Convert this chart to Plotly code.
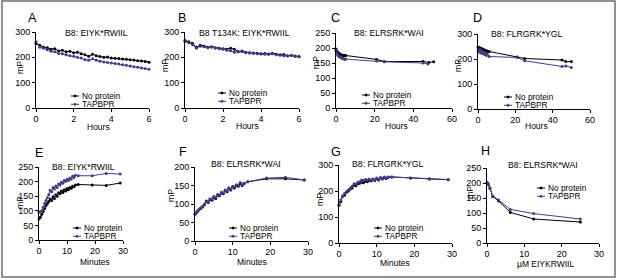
import plotly.graph_objects as go

W, H = 617, 280
BLACK = "#000000"
PURPLE = "#463a8c"
FONT = "Liberation Sans, Arial, sans-serif"

# ---------------- data ----------------
A_hours = [0.0, 0.2, 0.4, 0.6, 0.8, 1.0, 1.2, 1.4, 1.6, 1.8, 2.0, 2.2, 2.4, 2.6, 2.8, 3.0,
           3.2, 3.4, 3.6, 3.8, 4.0, 4.2, 4.4, 4.6, 4.8, 5.0, 5.2, 5.4, 5.6, 5.8, 6.0]
A_none = [255, 248, 240, 238, 232, 234, 225, 228, 222, 224, 218, 220, 214, 210, 204, 212,
          206, 203, 200, 201, 197, 196, 195, 193, 192, 190, 189, 187, 186, 184, 181]
A_tap = [262, 240, 236, 230, 224, 222, 215, 214, 210, 206, 204, 200, 197, 190, 188, 194,
         188, 185, 182, 180, 178, 176, 174, 171, 169, 166, 163, 161, 158, 156, 153]

B_hours = A_hours
B_none = [266, 262, 255, 240, 248, 245, 240, 242, 238, 236, 234, 232, 236, 232, 222, 225,
          220, 218, 217, 216, 214, 215, 213, 216, 212, 210, 211, 206, 208, 205, 202]
B_tap = [262, 258, 250, 236, 244, 242, 238, 240, 236, 234, 232, 228, 226, 220, 224, 222,
         218, 217, 216, 214, 213, 212, 212, 214, 210, 208, 206, 205, 207, 203, 204]

C_hours_none = [0, 0.5, 1, 1.5, 2, 2.5, 3, 3.5, 4, 4.5, 5, 21, 25, 45, 48, 50.5]
C_none = [197, 190, 185, 182, 180, 178, 176, 176, 175, 174, 175, 162, 155, 155, 152, 154]
C_hours_tap = [0, 0.5, 1, 1.5, 2, 2.5, 3, 3.5, 4, 4.5, 5, 21, 25, 45, 47.5]
C_tap = [192, 182, 176, 172, 170, 168, 166, 165, 164, 162, 163, 157, 154, 150, 147]

D_hours = [0, 0.5, 1, 1.5, 2, 2.5, 3, 3.5, 4, 4.5, 5, 6, 21, 25, 45, 47, 50]
D_none = [248, 240, 245, 236, 242, 232, 238, 230, 235, 228, 232, 230, 208, 202, 196, 190, 190]
D_tap = [232, 228, 238, 224, 232, 222, 228, 218, 224, 214, 220, 210, 206, 193, 170, 172, 166]

EFG_min = [0, 0.5, 1, 1.5, 2, 2.5, 3, 3.5, 4, 4.5, 5, 5.5, 6, 6.5, 7, 7.5, 8, 8.5, 9, 9.5,
           10, 10.5, 11, 11.5, 12, 12.5, 13, 14, 19, 24, 29]
E_none = [72, 78, 88, 98, 108, 118, 125, 132, 140, 135, 148, 142, 155, 150, 162, 158, 168, 163,
          172, 168, 176, 172, 180, 177, 184, 182, 188, 190, 188, 187, 195]
E_tap = [95, 98, 100, 112, 125, 135, 145, 155, 170, 165, 180, 175, 185, 180, 192, 188, 198, 194,
         204, 200, 208, 204, 212, 208, 218, 214, 222, 220, 220, 228, 226]
F_none = [72, 78, 84, 88, 92, 98, 108, 104, 112, 110, 118, 115, 124, 122, 130, 128, 136, 133,
          142, 138, 146, 143, 150, 148, 156, 150, 155, 160, 168, 168, 165]
F_tap = [74, 80, 85, 90, 94, 100, 106, 106, 114, 112, 120, 118, 126, 124, 132, 130, 138, 135,
         144, 140, 148, 146, 152, 150, 158, 152, 156, 160, 170, 172, 165]
G_none = [145, 160, 180, 185, 195, 200, 208, 212, 222, 220, 228, 230, 235, 232, 238, 236, 240, 238,
          245, 240, 248, 242, 250, 246, 252, 248, 252, 254, 250, 246, 243]
G_tap = [150, 165, 182, 190, 198, 205, 212, 218, 228, 226, 234, 236, 242, 240, 244, 242, 246, 240,
         246, 242, 250, 244, 252, 248, 254, 250, 254, 254, 250, 247, 244]

H_conc = [0, 0.1, 0.2, 0.39, 0.78, 1.56, 3.125, 6.25, 12.5, 25]
H_none = [202, 200, 198, 195, 183, 155, 140, 102, 80, 70]
H_tap = [200, 199, 197, 194, 182, 157, 143, 112, 98, 80]

titles = ["B8: EIYK*RWIIL", "B8 T134K: EIYK*RWIIL", "B8: ELRSRK*WAI", "B8: FLRGRK*YGL",
          "B8: EIYK*RWIIL", "B8: ELRSRK*WAI", "B8: FLRGRK*YGL", "B8: ELRSRK*WAI"]
letters = ["A", "B", "C", "D", "E", "F", "G", "H"]
xlabels = ["Hours", "Hours", "Hours", "Hours", "Minutes", "Minutes", "Minutes", "µM EIYKRWIIL"]
xranges = [[0, 6], [0, 6], [0, 60], [0, 60], [0, 30], [0, 30], [0, 30], [0, 30]]
xticks = [[0, 2, 4, 6], [0, 2, 4, 6], [0, 20, 40, 60], [0, 20, 40, 60],
          [0, 10, 20, 30], [0, 10, 20, 30], [0, 10, 20, 30], [0, 10, 20, 30]]
yranges = [[0, 300], [0, 300], [0, 250], [0, 300], [0, 250], [0, 200], [0, 300], [0, 250]]
yticks = [[0, 100, 200, 300], [0, 100, 200, 300], [0, 50, 100, 150, 200, 250], [0, 100, 200, 300],
          [0, 50, 100, 150, 200, 250], [0, 50, 100, 150, 200], [0, 100, 200, 300],
          [0, 50, 100, 150, 200, 250]]
series = [
    (A_hours, A_none, A_hours, A_tap),
    (B_hours, B_none, B_hours, B_tap),
    (C_hours_none, C_none, C_hours_tap, C_tap),
    (D_hours, D_none, D_hours, D_tap),
    (EFG_min, E_none, EFG_min, E_tap),
    (EFG_min, F_none, EFG_min, F_tap),
    (EFG_min, G_none, EFG_min, G_tap),
    (H_conc, H_none, H_conc, H_tap),
]
legend_names = ["No protein", "TAPBPR"]

# ---------------- layout geometry (pixels) ----------------
boxes = [(36, 149, 32, 108), (185, 299, 32, 108), (336, 452, 33, 108), (478, 590, 34, 109),
         (39, 123, 167, 240), (195, 308, 167, 241), (339, 452, 165, 243), (487, 599, 168, 243)]
title_pos = [(96, 33), (244, 33), (389, 33), (527, 34), (84, 167), (246, 164), (388, 164), (543, 165)]
letter_pos = [(32, 18), (182, 18), (336, 18), (477, 18), (39, 153), (183, 152), (336, 152), (485, 151)]
mp_pos = [(20, 68), (165, 65), (316, 63), (458, 66), (20, 203), (171, 195), (320, 200), (470, 193)]
xl_pos = [(98, 127), (247, 126), (396, 126), (536, 126), (95, 262), (252, 262), (395, 263), (545, 264)]
leg_pos = [(71, 96), (218, 93), (362, 95), (504, 97), (73, 228), (229, 228), (374, 228), (537, 188)]


def px(x):
    return x / W


def py(y):
    return 1 - y / H


fig = go.Figure()
annotations = []
shapes = []


def ann(text, pos, size, angle=0, xanchor="center"):
    annotations.append(dict(text=text, x=px(pos[0]), y=py(pos[1]), xref="paper", yref="paper",
                            showarrow=False, xanchor=xanchor, yanchor="middle", textangle=angle,
                            font=dict(family=FONT, size=size, color=BLACK)))


for i in range(8):
    k = "" if i == 0 else str(i + 1)
    xa, ya = "x" + k, "y" + k
    xn, yn, xt, yt = series[i]
    fig.add_trace(go.Scatter(x=xn, y=yn, mode="lines+markers", xaxis=xa, yaxis=ya,
                             line=dict(color=BLACK, width=1), marker=dict(color=BLACK, size=3),
                             cliponaxis=False, showlegend=False, name=legend_names[0]))
    fig.add_trace(go.Scatter(x=xt, y=yt, mode="lines+markers", xaxis=xa, yaxis=ya,
                             line=dict(color=PURPLE, width=1), marker=dict(color=PURPLE, size=3),
                             cliponaxis=False, showlegend=False, name=legend_names[1]))
    x0, x1, yt0, yb0 = boxes[i]
    common = dict(showline=True, linecolor=BLACK, linewidth=1, ticks="outside", ticklen=3,
                  tickwidth=1, tickcolor=BLACK, showgrid=False, zeroline=False, automargin=False,
                  tickfont=dict(family=FONT, size=9, color=BLACK), fixedrange=True)
    fig.update_layout(**{
        "xaxis" + k: dict(domain=[px(x0), px(x1)], anchor=ya, range=xranges[i],
                          tickvals=xticks[i], ticklabelstandoff=-1, **common),
        "yaxis" + k: dict(domain=[py(yb0), py(yt0)], anchor=xa, range=yranges[i],
                          tickvals=yticks[i], **common),
    })

    ann(titles[i], title_pos[i], 8.7)
    ann(letters[i], letter_pos[i], 12.5)
    ann("mP", mp_pos[i], 8.7, angle=-90)
    ann(xlabels[i], xl_pos[i], 8.5)
    lx, ly = leg_pos[i]
    for j, (name, col) in enumerate(zip(legend_names, [BLACK, PURPLE])):
        yy = ly + j * 8.3
        shapes.append(dict(type="line", xref="paper", yref="paper", x0=px(lx), x1=px(lx + 8),
                           y0=py(yy), y1=py(yy), line=dict(color=col, width=1)))
        shapes.append(dict(type="rect", xref="paper", yref="paper", x0=px(lx + 3), x1=px(lx + 5),
                           y0=py(yy + 1), y1=py(yy - 1), line=dict(color=col, width=0.5),
                           fillcolor=col))
        ann(name, (lx + 9, yy), 8.3, xanchor="left")

shapes.append(dict(type="rect", xref="paper", yref="paper", x0=px(2), x1=px(615), y0=py(277),
                   y1=py(1), line=dict(color="#6e6e6e", width=1.5)))

fig.update_layout(width=W, height=H, margin=dict(l=0, r=0, t=0, b=0, pad=0), autosize=False,
                  template="none", paper_bgcolor="white", plot_bgcolor="white",
                  annotations=annotations, shapes=shapes, showlegend=False)

fig.write_html("out.html", config={"displayModeBar": False},
               post_script="document.body.style.margin='0';document.body.style.padding='0';"
                           "document.body.style.overflow='hidden';")
